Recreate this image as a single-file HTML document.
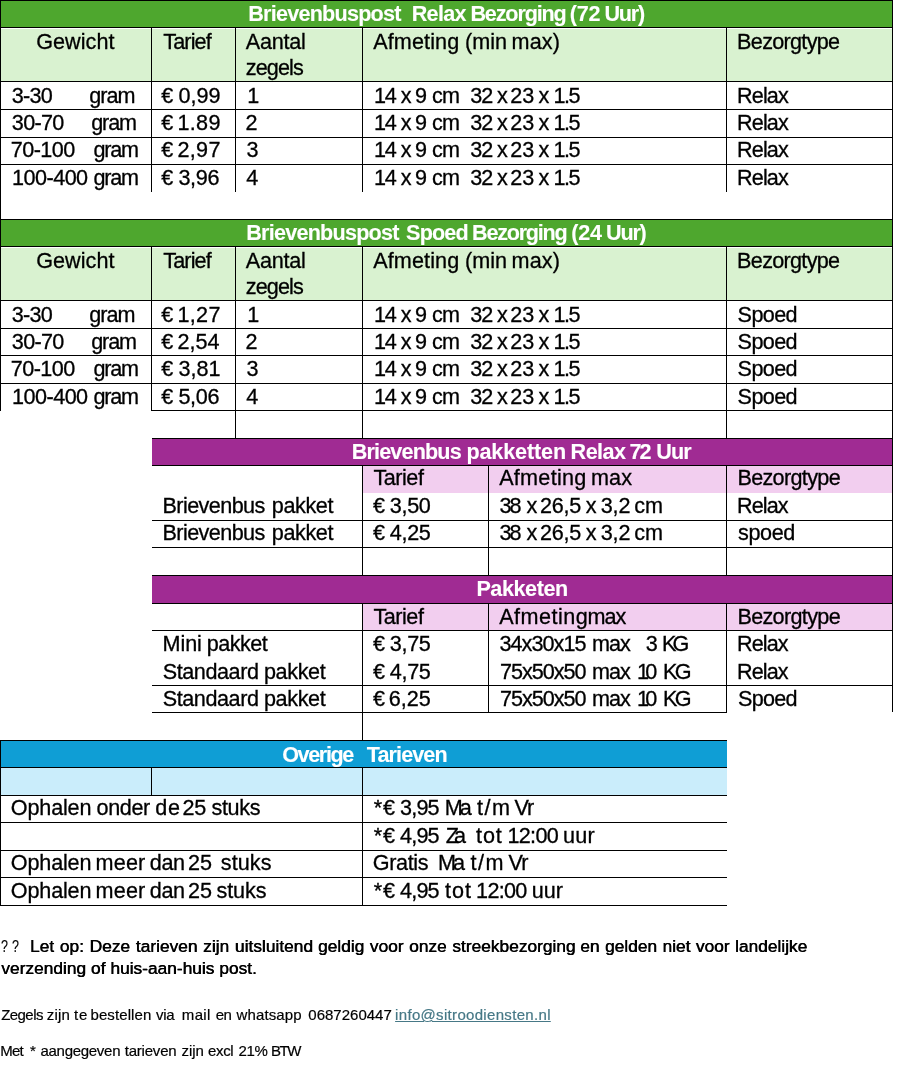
<!DOCTYPE html>
<html lang="nl"><head><meta charset="utf-8"><title>Tarieven</title>
<style>
html,body{margin:0;padding:0;background:#fff}
body{width:907px;height:1067px;position:relative;overflow:hidden;font-family:"Liberation Sans",sans-serif;color:#000}
.r,.h,.v,.t,.t i{position:absolute}
.h{height:1px;background:#000}
.v{width:1px;background:#000}
.t{left:0;white-space:pre;font-size:21.6px;line-height:26px;height:26px;-webkit-text-stroke:0.3px #000}
.t i{font-style:normal;top:0}
.b{font-weight:bold;color:#fff;-webkit-text-stroke:0.1px #fff}
.f1{font-size:17.33px;line-height:20px;height:20px;-webkit-text-stroke-width:0.15px}
.f2{font-size:15px;line-height:18px;height:18px;-webkit-text-stroke-width:0.2px}
.fb{text-shadow:0.4px 0 0 #000}
.q{transform:scaleX(.72);transform-origin:0 0;margin-left:-1px}
a.t{color:#467886;text-decoration:underline;-webkit-text-stroke-color:#467886}
</style></head><body>
<div class="r" style="left:0px;top:0px;width:893px;height:27px;background:#4EA72E"></div>
<div class="r" style="left:0px;top:29px;width:893px;height:52px;background:#D9F2D0"></div>
<div class="r" style="left:0px;top:219px;width:893px;height:27px;background:#4EA72E"></div>
<div class="r" style="left:0px;top:248px;width:893px;height:52px;background:#D9F2D0"></div>
<div class="r" style="left:152px;top:438px;width:741px;height:28px;background:#A02B93"></div>
<div class="r" style="left:363px;top:466px;width:530px;height:27px;background:#F2CEEF"></div>
<div class="r" style="left:152px;top:575px;width:741px;height:29px;background:#A02B93"></div>
<div class="r" style="left:363px;top:604px;width:530px;height:26px;background:#F2CEEF"></div>
<div class="r" style="left:0px;top:740px;width:727px;height:28px;background:#0F9ED5"></div>
<div class="r" style="left:0px;top:768px;width:727px;height:27px;background:#CAEDFB"></div>
<div class="h" style="left:0px;top:0px;width:893px"></div>
<div class="h" style="left:0px;top:27px;width:893px"></div>
<div class="h" style="left:0px;top:81px;width:893px"></div>
<div class="h" style="left:0px;top:109px;width:893px"></div>
<div class="h" style="left:0px;top:137px;width:893px"></div>
<div class="h" style="left:0px;top:164px;width:893px"></div>
<div class="h" style="left:0px;top:219px;width:893px"></div>
<div class="h" style="left:0px;top:246px;width:893px"></div>
<div class="h" style="left:0px;top:300px;width:893px"></div>
<div class="h" style="left:0px;top:328px;width:893px"></div>
<div class="h" style="left:0px;top:355px;width:893px"></div>
<div class="h" style="left:0px;top:383px;width:893px"></div>
<div class="h" style="left:151px;top:410px;width:742px"></div>
<div class="h" style="left:152px;top:438px;width:741px"></div>
<div class="h" style="left:152px;top:465px;width:741px"></div>
<div class="h" style="left:152px;top:520px;width:741px"></div>
<div class="h" style="left:152px;top:547px;width:741px"></div>
<div class="h" style="left:152px;top:575px;width:741px"></div>
<div class="h" style="left:152px;top:603px;width:741px"></div>
<div class="h" style="left:152px;top:630px;width:741px"></div>
<div class="h" style="left:152px;top:685px;width:741px"></div>
<div class="h" style="left:152px;top:712px;width:575px"></div>
<div class="h" style="left:0px;top:740px;width:727px"></div>
<div class="h" style="left:0px;top:767px;width:727px"></div>
<div class="h" style="left:0px;top:795px;width:727px"></div>
<div class="h" style="left:0px;top:822px;width:727px"></div>
<div class="h" style="left:0px;top:850px;width:727px"></div>
<div class="h" style="left:0px;top:877px;width:727px"></div>
<div class="h" style="left:0px;top:905px;width:727px"></div>
<div class="v" style="left:0px;top:27px;height:165px"></div>
<div class="v" style="left:151px;top:27px;height:165px"></div>
<div class="v" style="left:235px;top:27px;height:165px"></div>
<div class="v" style="left:362px;top:27px;height:165px"></div>
<div class="v" style="left:726px;top:27px;height:165px"></div>
<div class="v" style="left:892px;top:27px;height:165px"></div>
<div class="v" style="left:0px;top:246px;height:165px"></div>
<div class="v" style="left:151px;top:246px;height:165px"></div>
<div class="v" style="left:235px;top:246px;height:165px"></div>
<div class="v" style="left:362px;top:246px;height:165px"></div>
<div class="v" style="left:726px;top:246px;height:165px"></div>
<div class="v" style="left:892px;top:246px;height:165px"></div>
<div class="v" style="left:0px;top:0px;height:410px"></div>
<div class="v" style="left:892px;top:0px;height:712px"></div>
<div class="v" style="left:235px;top:410px;height:28px"></div>
<div class="v" style="left:362px;top:410px;height:28px"></div>
<div class="v" style="left:726px;top:410px;height:28px"></div>
<div class="v" style="left:892px;top:410px;height:28px"></div>
<div class="v" style="left:362px;top:466px;height:109px"></div>
<div class="v" style="left:488px;top:466px;height:109px"></div>
<div class="v" style="left:726px;top:466px;height:109px"></div>
<div class="v" style="left:892px;top:438px;height:165px"></div>
<div class="v" style="left:362px;top:603px;height:137px"></div>
<div class="v" style="left:488px;top:603px;height:109px"></div>
<div class="v" style="left:726px;top:603px;height:109px"></div>
<div class="v" style="left:892px;top:603px;height:109px"></div>
<div class="v" style="left:0px;top:740px;height:166px"></div>
<div class="v" style="left:151px;top:768px;height:27px"></div>
<div class="v" style="left:362px;top:768px;height:138px"></div>
<span class="t b" style="top:1.2px"><i style="left:248.2px;letter-spacing:-0.76px">Brievenbuspost</i>  <i style="left:411.7px;letter-spacing:-0.70px">Relax</i> <i style="left:470.4px;letter-spacing:-1.15px">Bezorging</i> <i style="left:569.8px;letter-spacing:-0.30px">(72</i> <i style="left:604.4px;letter-spacing:-1.23px">Uur)</i></span>
<span class="t" style="left:36.2px;top:28.7px;letter-spacing:0.05px">Gewicht</span>
<span class="t" style="left:163.2px;top:28.7px;letter-spacing:-0.84px">Tarief</span>
<span class="t" style="left:245.8px;top:28.7px;letter-spacing:-0.27px">Aantal</span>
<span class="t" style="left:245.8px;top:54.8px;letter-spacing:-0.90px">zegels</span>
<span class="t" style="top:28.7px"><i style="left:373.2px;letter-spacing:0.11px">Afmeting</i> <i style="left:465.1px;letter-spacing:-0.03px">(min</i> <i style="left:511.6px;letter-spacing:0.10px">max)</i></span>
<span class="t" style="left:737.1px;top:28.7px;letter-spacing:-0.69px">Bezorgtype</span>
<span class="t" style="top:82.7px"><i style="left:11.8px;letter-spacing:-0.74px">3-30</i>      <i style="left:89.2px;letter-spacing:-0.97px">gram</i></span>
<span class="t" style="top:82.7px"><i style="left:161.3px;letter-spacing:0.00px">€</i> <i style="left:178.4px;letter-spacing:-0.01px">0,99</i></span>
<span class="t" style="left:247.2px;top:82.7px;letter-spacing:0.00px">1</span>
<span class="t" style="top:82.7px"><i style="left:374.0px;letter-spacing:-1.21px">14</i> <i style="left:400.8px;letter-spacing:0.00px">x</i> <i style="left:414.9px;letter-spacing:0.00px">9</i> <i style="left:432.1px;letter-spacing:-0.90px">cm</i>  <i style="left:470.2px;letter-spacing:-0.91px">32</i> <i style="left:497.0px;letter-spacing:0.00px">x</i> <i style="left:510.2px;letter-spacing:-0.01px">23</i> <i style="left:538.4px;letter-spacing:0.00px">x</i> <i style="left:553.6px;letter-spacing:-1.50px">1.5</i></span>
<span class="t" style="left:737.1px;top:82.7px;letter-spacing:-0.90px">Relax</span>
<span class="t" style="top:109.9px"><i style="left:11.8px;letter-spacing:-0.68px">30-70</i>     <i style="left:91.2px;letter-spacing:-1.10px">gram</i></span>
<span class="t" style="top:109.9px"><i style="left:161.3px;letter-spacing:0.00px">€</i> <i style="left:177.4px;letter-spacing:0.33px">1.89</i></span>
<span class="t" style="left:245.6px;top:109.9px;letter-spacing:0.00px">2</span>
<span class="t" style="top:109.9px"><i style="left:374.0px;letter-spacing:-1.21px">14</i> <i style="left:400.8px;letter-spacing:0.00px">x</i> <i style="left:414.9px;letter-spacing:0.00px">9</i> <i style="left:432.1px;letter-spacing:-0.90px">cm</i>  <i style="left:470.2px;letter-spacing:-0.91px">32</i> <i style="left:497.0px;letter-spacing:0.00px">x</i> <i style="left:510.2px;letter-spacing:-0.01px">23</i> <i style="left:538.4px;letter-spacing:0.00px">x</i> <i style="left:553.6px;letter-spacing:-1.50px">1.5</i></span>
<span class="t" style="left:737.1px;top:109.9px;letter-spacing:-0.90px">Relax</span>
<span class="t" style="top:137.3px"><i style="left:10.8px;letter-spacing:-0.55px">70-100</i>   <i style="left:93.5px;letter-spacing:-1.20px">gram</i></span>
<span class="t" style="top:137.3px"><i style="left:161.3px;letter-spacing:0.00px">€</i> <i style="left:177.4px;letter-spacing:0.33px">2,97</i></span>
<span class="t" style="left:246.6px;top:137.3px;letter-spacing:0.00px">3</span>
<span class="t" style="top:137.3px"><i style="left:374.0px;letter-spacing:-1.21px">14</i> <i style="left:400.8px;letter-spacing:0.00px">x</i> <i style="left:414.9px;letter-spacing:0.00px">9</i> <i style="left:432.1px;letter-spacing:-0.90px">cm</i>  <i style="left:470.2px;letter-spacing:-0.91px">32</i> <i style="left:497.0px;letter-spacing:0.00px">x</i> <i style="left:510.2px;letter-spacing:-0.01px">23</i> <i style="left:538.4px;letter-spacing:0.00px">x</i> <i style="left:553.6px;letter-spacing:-1.50px">1.5</i></span>
<span class="t" style="left:737.1px;top:137.3px;letter-spacing:-0.90px">Relax</span>
<span class="t" style="top:164.5px"><i style="left:12.0px;letter-spacing:-0.52px">100-400</i> <i style="left:93.5px;letter-spacing:-1.20px">gram</i></span>
<span class="t" style="top:164.5px"><i style="left:161.3px;letter-spacing:0.00px">€</i> <i style="left:178.4px;letter-spacing:-0.34px">3,96</i></span>
<span class="t" style="left:246.2px;top:164.5px;letter-spacing:0.00px">4</span>
<span class="t" style="top:164.5px"><i style="left:374.0px;letter-spacing:-1.21px">14</i> <i style="left:400.8px;letter-spacing:0.00px">x</i> <i style="left:414.9px;letter-spacing:0.00px">9</i> <i style="left:432.1px;letter-spacing:-0.90px">cm</i>  <i style="left:470.2px;letter-spacing:-0.91px">32</i> <i style="left:497.0px;letter-spacing:0.00px">x</i> <i style="left:510.2px;letter-spacing:-0.01px">23</i> <i style="left:538.4px;letter-spacing:0.00px">x</i> <i style="left:553.6px;letter-spacing:-1.50px">1.5</i></span>
<span class="t" style="left:737.1px;top:164.5px;letter-spacing:-0.90px">Relax</span>
<span class="t b" style="top:220.2px"><i style="left:246.2px;letter-spacing:-0.76px">Brievenbuspost</i> <i style="left:406.1px;letter-spacing:-0.85px">Spoed</i> <i style="left:472.1px;letter-spacing:-1.26px">Bezorging</i> <i style="left:571.3px;letter-spacing:-0.30px">(24</i> <i style="left:606.0px;letter-spacing:-1.20px">Uur)</i></span>
<span class="t" style="left:36.2px;top:247.7px;letter-spacing:0.05px">Gewicht</span>
<span class="t" style="left:163.2px;top:247.7px;letter-spacing:-0.84px">Tarief</span>
<span class="t" style="left:245.8px;top:247.7px;letter-spacing:-0.27px">Aantal</span>
<span class="t" style="left:245.8px;top:273.8px;letter-spacing:-0.90px">zegels</span>
<span class="t" style="top:247.7px"><i style="left:373.2px;letter-spacing:0.11px">Afmeting</i> <i style="left:465.1px;letter-spacing:-0.03px">(min</i> <i style="left:511.6px;letter-spacing:0.10px">max)</i></span>
<span class="t" style="left:737.1px;top:247.7px;letter-spacing:-0.69px">Bezorgtype</span>
<span class="t" style="top:301.7px"><i style="left:11.8px;letter-spacing:-0.74px">3-30</i>      <i style="left:89.2px;letter-spacing:-0.97px">gram</i></span>
<span class="t" style="top:301.7px"><i style="left:161.3px;letter-spacing:0.00px">€</i> <i style="left:177.4px;letter-spacing:0.33px">1,27</i></span>
<span class="t" style="left:247.2px;top:301.7px;letter-spacing:0.00px">1</span>
<span class="t" style="top:301.7px"><i style="left:374.0px;letter-spacing:-1.21px">14</i> <i style="left:400.8px;letter-spacing:0.00px">x</i> <i style="left:414.9px;letter-spacing:0.00px">9</i> <i style="left:432.1px;letter-spacing:-0.90px">cm</i>  <i style="left:470.2px;letter-spacing:-0.91px">32</i> <i style="left:497.0px;letter-spacing:0.00px">x</i> <i style="left:510.2px;letter-spacing:-0.01px">23</i> <i style="left:538.4px;letter-spacing:0.00px">x</i> <i style="left:553.6px;letter-spacing:-1.50px">1.5</i></span>
<span class="t" style="left:737.6px;top:301.7px;letter-spacing:-0.61px">Spoed</span>
<span class="t" style="top:328.9px"><i style="left:11.8px;letter-spacing:-0.68px">30-70</i>     <i style="left:91.2px;letter-spacing:-1.10px">gram</i></span>
<span class="t" style="top:328.9px"><i style="left:161.3px;letter-spacing:0.00px">€</i> <i style="left:177.4px;letter-spacing:-0.01px">2,54</i></span>
<span class="t" style="left:245.6px;top:328.9px;letter-spacing:0.00px">2</span>
<span class="t" style="top:328.9px"><i style="left:374.0px;letter-spacing:-1.21px">14</i> <i style="left:400.8px;letter-spacing:0.00px">x</i> <i style="left:414.9px;letter-spacing:0.00px">9</i> <i style="left:432.1px;letter-spacing:-0.90px">cm</i>  <i style="left:470.2px;letter-spacing:-0.91px">32</i> <i style="left:497.0px;letter-spacing:0.00px">x</i> <i style="left:510.2px;letter-spacing:-0.01px">23</i> <i style="left:538.4px;letter-spacing:0.00px">x</i> <i style="left:553.6px;letter-spacing:-1.50px">1.5</i></span>
<span class="t" style="left:737.6px;top:328.9px;letter-spacing:-0.61px">Spoed</span>
<span class="t" style="top:356.3px"><i style="left:10.8px;letter-spacing:-0.55px">70-100</i>   <i style="left:93.5px;letter-spacing:-1.20px">gram</i></span>
<span class="t" style="top:356.3px"><i style="left:161.3px;letter-spacing:0.00px">€</i> <i style="left:178.4px;letter-spacing:-0.01px">3,81</i></span>
<span class="t" style="left:246.6px;top:356.3px;letter-spacing:0.00px">3</span>
<span class="t" style="top:356.3px"><i style="left:374.0px;letter-spacing:-1.21px">14</i> <i style="left:400.8px;letter-spacing:0.00px">x</i> <i style="left:414.9px;letter-spacing:0.00px">9</i> <i style="left:432.1px;letter-spacing:-0.90px">cm</i>  <i style="left:470.2px;letter-spacing:-0.91px">32</i> <i style="left:497.0px;letter-spacing:0.00px">x</i> <i style="left:510.2px;letter-spacing:-0.01px">23</i> <i style="left:538.4px;letter-spacing:0.00px">x</i> <i style="left:553.6px;letter-spacing:-1.50px">1.5</i></span>
<span class="t" style="left:737.6px;top:356.3px;letter-spacing:-0.61px">Spoed</span>
<span class="t" style="top:383.5px"><i style="left:12.0px;letter-spacing:-0.52px">100-400</i> <i style="left:93.5px;letter-spacing:-1.20px">gram</i></span>
<span class="t" style="top:383.5px"><i style="left:161.3px;letter-spacing:0.00px">€</i> <i style="left:178.4px;letter-spacing:-0.34px">5,06</i></span>
<span class="t" style="left:246.2px;top:383.5px;letter-spacing:0.00px">4</span>
<span class="t" style="top:383.5px"><i style="left:374.0px;letter-spacing:-1.21px">14</i> <i style="left:400.8px;letter-spacing:0.00px">x</i> <i style="left:414.9px;letter-spacing:0.00px">9</i> <i style="left:432.1px;letter-spacing:-0.90px">cm</i>  <i style="left:470.2px;letter-spacing:-0.91px">32</i> <i style="left:497.0px;letter-spacing:0.00px">x</i> <i style="left:510.2px;letter-spacing:-0.01px">23</i> <i style="left:538.4px;letter-spacing:0.00px">x</i> <i style="left:553.6px;letter-spacing:-1.50px">1.5</i></span>
<span class="t" style="left:737.6px;top:383.5px;letter-spacing:-0.61px">Spoed</span>
<span class="t b" style="top:439.2px"><i style="left:351.7px;letter-spacing:-0.84px">Brievenbus</i> <i style="left:466.4px;letter-spacing:-0.14px">pakketten</i> <i style="left:570.6px;letter-spacing:-0.55px">Relax</i> <i style="left:629.5px;letter-spacing:-1.91px">72</i> <i style="left:656.3px;letter-spacing:-0.94px">Uur</i></span>
<span class="t" style="left:373.4px;top:465.1px;letter-spacing:-0.46px">Tarief</span>
<span class="t" style="top:465.1px"><i style="left:499.2px;letter-spacing:0.26px">Afmeting</i> <i style="left:590.9px;letter-spacing:0.20px">max</i></span>
<span class="t" style="left:737.4px;top:465.1px;letter-spacing:-0.66px">Bezorgtype</span>
<span class="t" style="top:493.2px"><i style="left:162.5px;letter-spacing:-0.58px">Brievenbus</i> <i style="left:271.8px;letter-spacing:-0.40px">pakket</i></span>
<span class="t" style="top:493.2px"><i style="left:372.9px;letter-spacing:0.00px">€</i> <i style="left:389.8px;letter-spacing:-0.34px">3,50</i></span>
<span class="t" style="top:493.2px"><i style="left:499.4px;letter-spacing:-1.81px">38</i> <i style="left:526.4px;letter-spacing:0.00px">x</i> <i style="left:540.1px;letter-spacing:-0.27px">26,5</i> <i style="left:585.8px;letter-spacing:0.00px">x</i> <i style="left:600.8px;letter-spacing:-0.20px">3,2</i> <i style="left:634.2px;letter-spacing:0.00px">cm</i></span>
<span class="t" style="left:737.1px;top:493.2px;letter-spacing:-0.95px">Relax</span>
<span class="t" style="top:520.4px"><i style="left:162.5px;letter-spacing:-0.58px">Brievenbus</i> <i style="left:271.8px;letter-spacing:-0.40px">pakket</i></span>
<span class="t" style="top:520.4px"><i style="left:372.9px;letter-spacing:0.00px">€</i> <i style="left:389.8px;letter-spacing:-0.34px">4,25</i></span>
<span class="t" style="top:520.4px"><i style="left:499.4px;letter-spacing:-1.81px">38</i> <i style="left:526.4px;letter-spacing:0.00px">x</i> <i style="left:540.1px;letter-spacing:-0.27px">26,5</i> <i style="left:585.8px;letter-spacing:0.00px">x</i> <i style="left:600.8px;letter-spacing:-0.20px">3,2</i> <i style="left:634.2px;letter-spacing:0.00px">cm</i></span>
<span class="t" style="left:738.1px;top:520.4px;letter-spacing:-0.41px">spoed</span>
<span class="t b" style="left:476.4px;top:575.8px;letter-spacing:-0.43px">Pakketen</span>
<span class="t" style="left:373.4px;top:604.2px;letter-spacing:-0.46px">Tarief</span>
<span class="t" style="top:604.2px"><i style="left:499.2px;letter-spacing:0.48px">Afmeting</i> <i style="left:587.6px;letter-spacing:-1.05px">max</i></span>
<span class="t" style="left:737.4px;top:604.2px;letter-spacing:-0.66px">Bezorgtype</span>
<span class="t" style="top:631.2px"><i style="left:162.5px;letter-spacing:-0.06px">Mini</i> <i style="left:206.7px;letter-spacing:-0.50px">pakket</i></span>
<span class="t" style="top:631.2px"><i style="left:372.9px;letter-spacing:0.00px">€</i> <i style="left:389.8px;letter-spacing:-0.34px">3,75</i></span>
<span class="t" style="top:631.2px"><i style="left:499.5px;letter-spacing:-0.95px">34x30x15</i> <i style="left:591.9px;letter-spacing:-0.95px">max</i>  <i style="left:645.8px;letter-spacing:0.00px">3</i> <i style="left:662.1px;letter-spacing:-4.00px">KG</i></span>
<span class="t" style="left:737.1px;top:631.2px;letter-spacing:-0.95px">Relax</span>
<span class="t" style="top:659.1px"><i style="left:162.7px;letter-spacing:-0.43px">Standaard</i> <i style="left:263.9px;letter-spacing:-0.36px">pakket</i></span>
<span class="t" style="top:659.1px"><i style="left:372.9px;letter-spacing:0.00px">€</i> <i style="left:389.8px;letter-spacing:-0.34px">4,75</i></span>
<span class="t" style="top:659.1px"><i style="left:499.9px;letter-spacing:-1.01px">75x50x50</i> <i style="left:591.9px;letter-spacing:-0.95px">max</i> <i style="left:637.1px;letter-spacing:-3.91px">10</i> <i style="left:663.0px;letter-spacing:-2.60px">KG</i></span>
<span class="t" style="left:737.1px;top:659.1px;letter-spacing:-0.95px">Relax</span>
<span class="t" style="top:686.0px"><i style="left:162.7px;letter-spacing:-0.43px">Standaard</i> <i style="left:263.9px;letter-spacing:-0.36px">pakket</i></span>
<span class="t" style="top:686.0px"><i style="left:372.9px;letter-spacing:0.00px">€</i> <i style="left:388.8px;letter-spacing:-0.01px">6,25</i></span>
<span class="t" style="top:686.0px"><i style="left:499.9px;letter-spacing:-1.01px">75x50x50</i> <i style="left:591.9px;letter-spacing:-0.95px">max</i> <i style="left:637.1px;letter-spacing:-3.91px">10</i> <i style="left:663.0px;letter-spacing:-2.60px">KG</i></span>
<span class="t" style="left:738.1px;top:686.0px;letter-spacing:-0.73px">Spoed</span>
<span class="t b" style="top:741.5px"><i style="left:282.2px;letter-spacing:-1.38px">Overige</i>  <i style="left:366.7px;letter-spacing:-0.89px">Tarieven</i></span>
<span class="t" style="top:795.1px"><i style="left:10.8px;letter-spacing:-0.16px">Ophalen</i> <i style="left:96.5px;letter-spacing:-0.38px">onder</i> <i style="left:155.3px;letter-spacing:0.69px">de</i> <i style="left:182.4px;letter-spacing:-0.21px">25</i> <i style="left:211.5px;letter-spacing:-0.35px">stuks</i></span>
<span class="t" style="top:795.1px"><i style="left:373.8px;letter-spacing:0.80px">*€</i> <i style="left:400.0px;letter-spacing:-0.81px">3,95</i> <i style="left:444.7px;letter-spacing:-2.99px">Ma</i> <i style="left:477.1px;letter-spacing:1.50px">t/m</i> <i style="left:514.6px;letter-spacing:-1.20px">Vr</i></span>
<span class="t" style="top:822.9px"><i style="left:373.8px;letter-spacing:0.80px">*€</i> <i style="left:400.0px;letter-spacing:-0.81px">4,95</i> <i style="left:445.7px;letter-spacing:-4.79px">Za</i>  <i style="left:476.1px;letter-spacing:0.85px">tot</i> <i style="left:507.5px;letter-spacing:-0.71px">12:00</i> <i style="left:563.1px;letter-spacing:0.14px">uur</i></span>
<span class="t" style="top:850.4px"><i style="left:10.8px;letter-spacing:-0.16px">Ophalen</i> <i style="left:95.5px;letter-spacing:0.20px">meer</i> <i style="left:149.8px;letter-spacing:-0.36px">dan</i> <i style="left:188.0px;letter-spacing:0.09px">25</i>  <i style="left:220.8px;letter-spacing:0.07px">stuks</i></span>
<span class="t" style="top:850.4px"><i style="left:372.8px;letter-spacing:-0.38px">Gratis</i>  <i style="left:438.0px;letter-spacing:-2.89px">Ma</i> <i style="left:470.5px;letter-spacing:1.45px">t/m</i> <i style="left:508.5px;letter-spacing:-0.80px">Vr</i></span>
<span class="t" style="top:877.5px"><i style="left:10.8px;letter-spacing:-0.16px">Ophalen</i> <i style="left:95.5px;letter-spacing:0.20px">meer</i> <i style="left:149.8px;letter-spacing:-0.36px">dan</i> <i style="left:188.0px;letter-spacing:0.09px">25</i> <i style="left:216.5px;letter-spacing:-0.10px">stuks</i></span>
<span class="t" style="top:877.5px"><i style="left:373.8px;letter-spacing:0.80px">*€</i> <i style="left:400.0px;letter-spacing:-0.81px">4,95</i> <i style="left:445.0px;letter-spacing:1.05px">tot</i> <i style="left:476.1px;letter-spacing:-0.71px">12:00</i> <i style="left:531.8px;letter-spacing:-0.01px">uur</i></span>
<span class="t f1" style="top:936.4px"><i class="q" style="left:1.8px">?</i> <i class="q" style="left:13.3px">?</i>  <i class="fb" style="left:29.9px;word-spacing:0.92px">Let op: Deze tarieven zijn uitsluitend</i> <i class="fb" style="left:317.9px;word-spacing:0.77px">geldig voor onze streekbezorging</i> <i class="fb" style="left:580.2px;word-spacing:0.63px">en gelden niet voor landelijke</i></span>
<span class="t f1" style="top:957.9px"><i class="fb" style="left:1.2px;word-spacing:0.10px">verzending of huis-aan-huis post.</i></span>
<span class="t f2" style="top:1006.2px"><i style="left:1.2px;letter-spacing:-0.56px">Zegels</i> <i style="left:46.8px;letter-spacing:0.14px">zijn</i> <i style="left:74.0px;letter-spacing:0.83px">te</i> <i style="left:90.5px;letter-spacing:0.09px">bestellen</i> <i style="left:156.0px;letter-spacing:-0.32px">via</i>  <i style="left:181.8px;letter-spacing:0.34px">mail</i> <i style="left:215.7px;letter-spacing:-0.54px">en</i> <i style="left:236.5px;letter-spacing:0.13px">whatsapp</i>  <i style="left:308.3px;letter-spacing:0.01px">0687260447</i></span>
<a class="t f2" style="left:395.1px;top:1006.2px;letter-spacing:0.32px">info@sitroodiensten.nl</a>
<span class="t f2" style="top:1042.1px"><i style="left:0.2px;letter-spacing:-0.72px">Met</i> <i style="left:29.9px;letter-spacing:0.00px">*</i> <i style="left:40.5px;letter-spacing:-0.29px">aangegeven</i> <i style="left:124.7px;letter-spacing:-0.20px">tarieven</i> <i style="left:181.5px;letter-spacing:-0.09px">zijn</i> <i style="left:208.1px;letter-spacing:-0.38px">excl</i> <i style="left:238.6px;letter-spacing:-0.39px">21%</i> <i style="left:271.1px;letter-spacing:-1.48px">BTW</i></span>
</body></html>
